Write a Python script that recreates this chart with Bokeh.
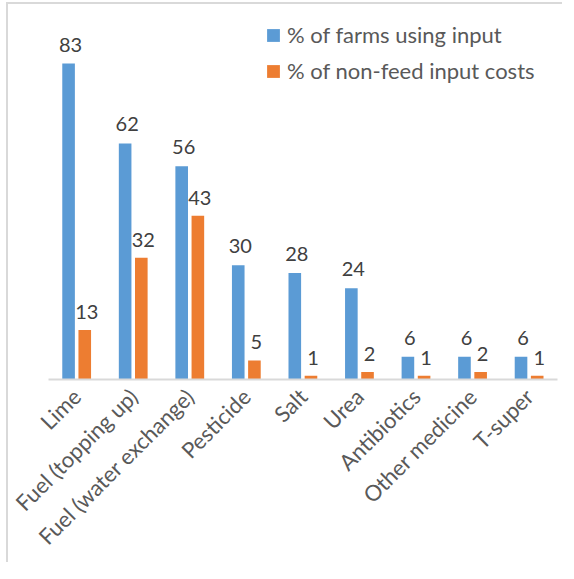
from math import pi
from bokeh.plotting import figure
from bokeh.models import ColumnDataSource, FactorRange, Range1d, Legend, LegendItem
from bokeh.transform import dodge
from bokeh.embed import file_html
from bokeh.resources import INLINE
from bokeh.core.properties import value

categories = ["Lime", "Fuel (topping up)", "Fuel (water exchange)", "Pesticide",
              "Salt", "Urea", "Antibiotics", "Other medicine", "T-super"]
farms_pct = [83, 62, 56, 30, 28, 24, 6, 6, 6]
cost_pct = [13, 32, 43, 5, 1, 2, 1, 2, 1]
series_names = ["% of farms using input", "% of non-feed input costs"]
colors = ["#5B9BD5", "#ED7D31"]

src = ColumnDataSource(dict(
    cat=categories,
    farms=farms_pct,
    cost=cost_pct,
    farms_lbl=[str(v) for v in farms_pct],
    cost_lbl=[str(v) for v in cost_pct],
))

FONT = "Lato"

p = figure(x_range=FactorRange(*categories), y_range=Range1d(0, 97.2),
           frame_width=509, frame_height=370,
           min_border_left=40, min_border_right=5, min_border_top=5, min_border_bottom=66,
           output_backend="svg", toolbar_location=None)
p.styles = {"margin-left": "6px", "margin-top": "2px",
            "border-left": "2px solid #D9D9D9", "border-top": "2px solid #D9D9D9"}
p.outline_line_color = None
p.background_fill_color = "white"
p.border_fill_color = "white"
p.xgrid.visible = False
p.ygrid.visible = False
p.yaxis.visible = False

p.xaxis.axis_line_color = "#D9D9D9"
p.xaxis.axis_line_width = 2
p.xaxis.major_tick_line_color = None
p.xaxis.minor_tick_line_color = None
p.xaxis.major_label_orientation = pi / 4
p.xaxis.major_label_text_font = FONT
p.xaxis.major_label_text_font_size = "22px"
p.xaxis.major_label_text_color = "#595959"
p.xaxis.major_label_standoff = 7
p.x_range.range_padding = 0

r1 = p.vbar(x=dodge("cat", -0.145, range=p.x_range), top="farms", width=0.223,
            source=src, fill_color=colors[0], line_color=None)
r2 = p.vbar(x=dodge("cat", 0.141, range=p.x_range), top="cost", width=0.223,
            source=src, fill_color=colors[1], line_color=None)

p.text(x=dodge("cat", -0.145, range=p.x_range), y="farms", text="farms_lbl", source=src,
       text_align="center", text_baseline="alphabetic", x_offset=2, y_offset=-19,
       text_font=value(FONT), text_font_size="20px", text_color="#404040")
p.text(x=dodge("cat", 0.141, range=p.x_range), y="cost", text="cost_lbl", source=src,
       text_align="center", text_baseline="alphabetic", x_offset=2, y_offset=-18,
       text_font=value(FONT), text_font_size="20px", text_color="#404040")

legend = Legend(items=[LegendItem(label=series_names[0], renderers=[r1]),
                       LegendItem(label=series_names[1], renderers=[r2])],
                location=(217, 295))
legend.border_line_color = None
legend.background_fill_alpha = 0
legend.padding = 0
legend.margin = 0
legend.spacing = 9
legend.glyph_width = 16
legend.glyph_height = 16
legend.label_standoff = 6
legend.label_text_font = FONT
legend.label_text_font_size = "22px"
legend.label_text_color = "#595959"
p.add_layout(legend)

open("out.html", "w").write(file_html(p, INLINE))
